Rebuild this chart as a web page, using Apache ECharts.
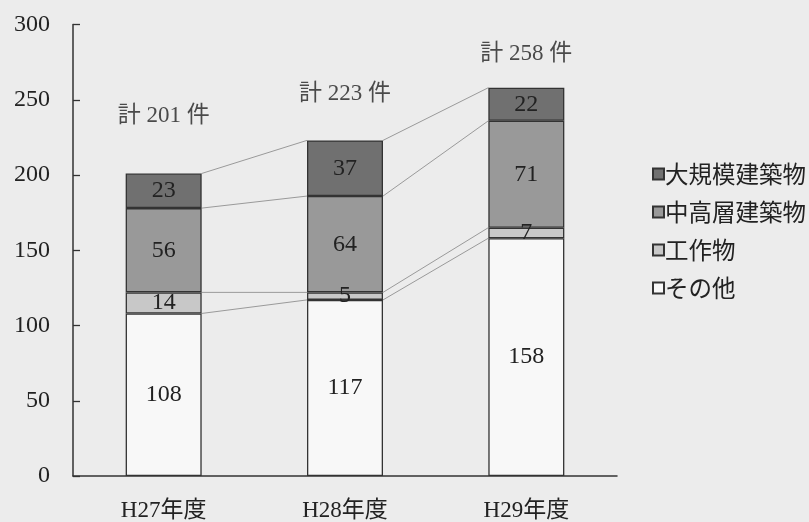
<!DOCTYPE html>
<html>
<head>
<meta charset="utf-8">
<script src="https://cdn.jsdelivr.net/npm/echarts@6/dist/echarts.min.js"></script>
<style>
  html, body { margin: 0; padding: 0; background: #ececec; }
  #chart { width: 809px; height: 522px; }
</style>
</head>
<body>
<div id="chart"></div>
<script>
// Years and building-category counts
const years = ['H27年度', 'H28年度', 'H29年度'];
const other = [108, 117, 158];        // その他
const structures = [14, 5, 7];        // 工作物
const midHigh = [56, 64, 71];         // 中高層建築物
const large = [23, 37, 22];           // 大規模建築物
const yTicks = [0, 50, 100, 150, 200, 250, 300];

const seriesNames = ['その他', '工作物', '中高層建築物', '大規模建築物'];
const seriesValues = [other, structures, midHigh, large];
const fills = ['#f8f8f8', '#c8c8c8', '#999999', '#707070'];

const serif = '"Liberation Serif", "Noto Sans CJK JP", serif';
const BAR_W = 76;

// Running totals for each stack boundary
const cumulative = seriesValues.map((_, s) =>
  years.map((_, i) => seriesValues.slice(0, s + 1).reduce((a, arr) => a + arr[i], 0)));
const totals = cumulative[cumulative.length - 1];

const barSeries = seriesNames.map((name, s) => ({
  name,
  type: 'bar',
  stack: 'all',
  barWidth: BAR_W,
  data: seriesValues[s],
  itemStyle: { color: fills[s], borderColor: '#333', borderWidth: 1.3 },
  label: {
    show: true,
    position: 'inside',
    color: '#222',
    fontFamily: serif,
    fontSize: 24
  },
  z: 3
}));

// Thin connectors between neighbouring bars at every stack boundary
const connectorData = years.slice(0, -1).map((_, i) =>
  [i].concat(cumulative.map(c => c[i]), cumulative.map(c => c[i + 1])));

const connectors = {
  type: 'custom',
  silent: true,
  z: 2,
  data: connectorData,
  renderItem(params, api) {
    const i = api.value(0);
    const n = cumulative.length;
    const children = [];
    for (let k = 0; k < n; k++) {
      const a = api.coord([i, api.value(1 + k)]);
      const b = api.coord([i + 1, api.value(1 + n + k)]);
      children.push({
        type: 'line',
        shape: { x1: a[0] + BAR_W / 2, y1: a[1], x2: b[0] - BAR_W / 2, y2: b[1] },
        style: { stroke: '#9a9a9a', lineWidth: 1 }
      });
    }
    return { type: 'group', children };
  }
};

// Totals written above each bar
const labelGaps = [46, 35, 22];
const totalLabels = {
  type: 'scatter',
  silent: true,
  symbolSize: 0,
  data: totals.map((t, i) => ({ value: t, label: { distance: labelGaps[i] } })),
  label: {
    show: true,
    position: 'top',
    formatter: p => '計 ' + p.value + ' 件',
    color: '#222',
    fontFamily: serif,
    fontSize: 23
  },
  z: 4
};

const chart = echarts.init(document.getElementById('chart'), null, { renderer: 'canvas' });
chart.setOption({
  backgroundColor: '#ececec',
  animation: false,
  grid: { left: 73, top: 24.5, right: 192, bottom: 46, containLabel: false },
  legend: {
    orient: 'vertical',
    left: 647,
    top: 157,
    data: seriesNames.slice().reverse(),
    icon: 'rect',
    itemWidth: 11,
    itemHeight: 11,
    itemGap: 14,
    textStyle: {
      fontFamily: '"Noto Sans CJK JP", sans-serif',
      fontSize: 23.5,
      lineHeight: 24,
      color: '#222',
      padding: [0, 0, 0, -4]
    }
  },
  xAxis: {
    type: 'category',
    data: years,
    axisLine: { lineStyle: { color: '#333', width: 1.5 } },
    axisTick: { show: false },
    axisLabel: {
      color: '#222',
      fontFamily: serif,
      fontSize: 23,
      margin: 23
    }
  },
  yAxis: {
    type: 'value',
    min: yTicks[0],
    max: yTicks[yTicks.length - 1],
    interval: yTicks[1] - yTicks[0],
    axisLine: { show: true, lineStyle: { color: '#333', width: 1.5 } },
    axisTick: { show: true, inside: true, length: 7, lineStyle: { color: '#333', width: 1.3 } },
    splitLine: { show: false },
    axisLabel: {
      color: '#222',
      fontFamily: serif,
      fontSize: 24,
      margin: 23
    }
  },
  series: barSeries.concat([connectors, totalLabels])
});
</script>
</body>
</html>
